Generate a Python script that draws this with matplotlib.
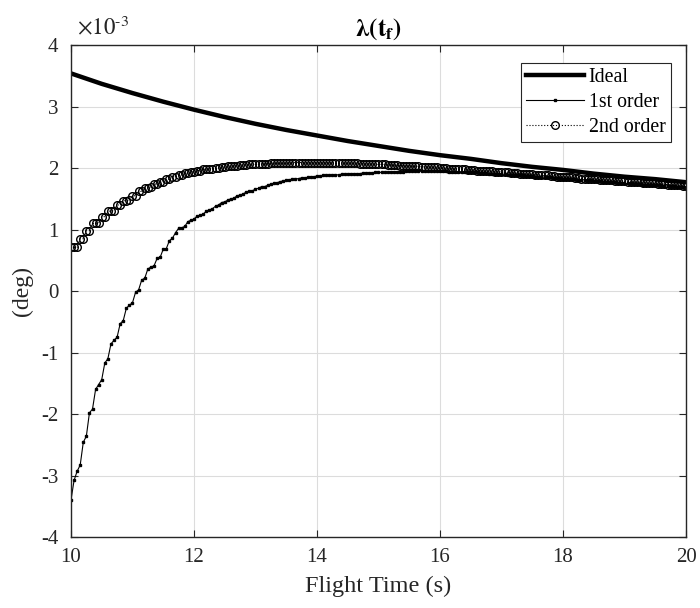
import matplotlib
matplotlib.use("Agg")
import matplotlib.pyplot as plt
import numpy as np
from matplotlib.ticker import FuncFormatter

plt.rcParams['font.family'] = ['Liberation Serif', 'DejaVu Serif']
plt.rcParams['mathtext.fontset'] = 'stix'
plt.rcParams['axes.unicode_minus'] = False

# values, in units of 1e-3 deg
ideal_time = [10.0, 10.5, 11.0, 11.5, 12.0, 12.5, 13.0, 13.5, 14.0, 14.5, 15.0,
              15.5, 16.0, 16.5, 17.0, 17.5, 18.0, 18.5, 19.0, 19.5, 20.0]
ideal = [3.54, 3.37, 3.22, 3.08, 2.95, 2.83, 2.72, 2.62, 2.53, 2.44, 2.36,
         2.28, 2.21, 2.15, 2.08, 2.02, 1.97, 1.91, 1.86, 1.82, 1.77]

# sample grid of the 1st / 2nd order series (0.05 s)
flight_time = np.round(10 + 0.05 * np.arange(201), 2)

first_order = [
    -3.40, -3.08, -2.93, -2.83, -2.46, -2.36, -1.98, -1.92, -1.60, -1.52,
    -1.44, -1.17, -1.10, -0.86, -0.80, -0.75, -0.53, -0.48, -0.28, -0.23,
    -0.19, -0.02, 0.02, 0.18, 0.21, 0.36, 0.39, 0.41, 0.53, 0.55,
    0.68, 0.69, 0.82, 0.86, 0.95, 1.02, 1.03, 1.05, 1.13, 1.15,
    1.17, 1.22, 1.23, 1.25, 1.30, 1.32, 1.34, 1.38, 1.40, 1.44,
    1.45, 1.48, 1.50, 1.51, 1.55, 1.56, 1.58, 1.61, 1.62, 1.63,
    1.66, 1.67, 1.70, 1.70, 1.72, 1.74, 1.75, 1.76, 1.78, 1.79,
    1.80, 1.81, 1.82, 1.82, 1.83, 1.84, 1.84, 1.85, 1.86, 1.86,
    1.87, 1.87, 1.88, 1.88, 1.88, 1.89, 1.89, 1.89, 1.90, 1.90,
    1.90, 1.91, 1.91, 1.91, 1.91, 1.92, 1.92, 1.92, 1.92, 1.93,
    1.93, 1.93, 1.93, 1.93, 1.94, 1.94, 1.94, 1.94, 1.94, 1.95,
    1.95, 1.95, 1.95, 1.95, 1.95, 1.95, 1.95, 1.95, 1.95, 1.95,
    1.95, 1.95, 1.95, 1.94, 1.94, 1.94, 1.94, 1.94, 1.93, 1.93,
    1.93, 1.93, 1.93, 1.92, 1.92, 1.92, 1.91, 1.91, 1.91, 1.90,
    1.90, 1.90, 1.89, 1.89, 1.89, 1.88, 1.88, 1.88, 1.87, 1.87,
    1.87, 1.86, 1.86, 1.86, 1.85, 1.85, 1.85, 1.84, 1.84, 1.84,
    1.83, 1.83, 1.83, 1.82, 1.82, 1.81, 1.81, 1.81, 1.80, 1.80,
    1.79, 1.79, 1.79, 1.78, 1.78, 1.77, 1.77, 1.77, 1.76, 1.76,
    1.75, 1.75, 1.75, 1.74, 1.74, 1.74, 1.73, 1.73, 1.73, 1.72,
    1.72, 1.72, 1.72, 1.71, 1.71, 1.71, 1.71, 1.70, 1.70, 1.70,
    1.70]

second_order = [
    0.71, 0.71, 0.71, 0.85, 0.85, 0.98, 0.98, 1.10, 1.10, 1.11,
    1.21, 1.21, 1.30, 1.30, 1.31, 1.40, 1.40, 1.47, 1.47, 1.48,
    1.55, 1.55, 1.62, 1.62, 1.68, 1.68, 1.69, 1.74, 1.74, 1.78,
    1.78, 1.82, 1.82, 1.86, 1.86, 1.89, 1.89, 1.92, 1.92, 1.94,
    1.94, 1.96, 1.96, 1.98, 1.98, 1.99, 1.99, 2.00, 2.00, 2.02,
    2.02, 2.03, 2.03, 2.04, 2.04, 2.05, 2.05, 2.05, 2.06, 2.06,
    2.06, 2.07, 2.07, 2.07, 2.07, 2.08, 2.08, 2.08, 2.08, 2.08,
    2.08, 2.09, 2.09, 2.09, 2.09, 2.09, 2.09, 2.09, 2.09, 2.09,
    2.09, 2.09, 2.09, 2.09, 2.09, 2.09, 2.08, 2.08, 2.08, 2.08,
    2.08, 2.08, 2.08, 2.08, 2.07, 2.07, 2.07, 2.07, 2.07, 2.06,
    2.06, 2.06, 2.06, 2.05, 2.05, 2.05, 2.05, 2.04, 2.04, 2.04,
    2.04, 2.03, 2.03, 2.03, 2.02, 2.02, 2.02, 2.01, 2.01, 2.01,
    2.00, 2.00, 2.00, 1.99, 1.99, 1.99, 1.98, 1.98, 1.98, 1.97,
    1.97, 1.97, 1.96, 1.96, 1.96, 1.95, 1.95, 1.95, 1.94, 1.94,
    1.94, 1.93, 1.93, 1.92, 1.92, 1.92, 1.91, 1.91, 1.90, 1.90,
    1.90, 1.89, 1.89, 1.88, 1.88, 1.88, 1.87, 1.87, 1.86, 1.86,
    1.86, 1.85, 1.85, 1.85, 1.84, 1.84, 1.83, 1.83, 1.83, 1.82,
    1.82, 1.82, 1.81, 1.81, 1.80, 1.80, 1.80, 1.79, 1.79, 1.79,
    1.79, 1.78, 1.78, 1.77, 1.77, 1.77, 1.76, 1.76, 1.75, 1.75,
    1.75, 1.74, 1.74, 1.74, 1.73, 1.73, 1.72, 1.72, 1.72, 1.71,
    1.71]

scale = 1e-3
tick_col = '#262626'

fig = plt.figure(figsize=(7.0, 6.08), dpi=100)
ax = fig.add_axes([0.1014, 0.1168, 0.8786, 0.809])

ax.plot(ideal_time, np.array(ideal) * scale, color='k', lw=3.2, label='Ideal')
ax.plot(flight_time, np.array(first_order) * scale, color='k', lw=0.8,
        marker='s', ms=2.0, label='1st order')
ax.plot(flight_time, np.array(second_order) * scale, color='k', lw=0.8,
        ls=':', marker='o', ms=5.5, mfc='none', mew=1.0, label='2nd order')

ax.set_xlim(10, 20)
ax.set_ylim(-4e-3, 4e-3)
ax.set_xticks([10, 12, 14, 16, 18, 20])
ax.set_yticks(np.arange(-4, 5) * scale)
ax.yaxis.set_major_formatter(FuncFormatter(lambda v, p: f"{v / scale:g}"))
ax.text(0.01, 1.012, r'$\times10^{\text{-}3}$', transform=ax.transAxes,
        fontsize=16.5, color=tick_col, ha='left', va='bottom')

ax.grid(True, color='#dcdcdc', lw=0.8)
ax.set_axisbelow(True)
ax.tick_params(direction='in', top=True, right=True, labelsize=15,
               colors=tick_col, length=5)
ax.tick_params(axis='y', pad=9)
ax.tick_params(axis='x', pad=8)
for s in ax.spines.values():
    s.set_color(tick_col)
    s.set_linewidth(1.0)

ax.set_xlabel('Flight Time (s)', fontsize=17.5, color=tick_col, labelpad=6)
ax.set_ylabel('(deg)', fontsize=17, color=tick_col, labelpad=6)
ax.set_title(r'$\mathbf{\lambda(t_f)}$', fontsize=18, pad=7)

leg = ax.legend(loc='upper right', bbox_to_anchor=(0.975, 0.963),
                fontsize=14.3, handlelength=2.9,
                fancybox=False, framealpha=1, edgecolor=tick_col,
                borderpad=0.25, labelspacing=0.3, handletextpad=0.25,
                borderaxespad=0)
leg.get_frame().set_linewidth(0.8)

fig.savefig('out.png', dpi=100)
